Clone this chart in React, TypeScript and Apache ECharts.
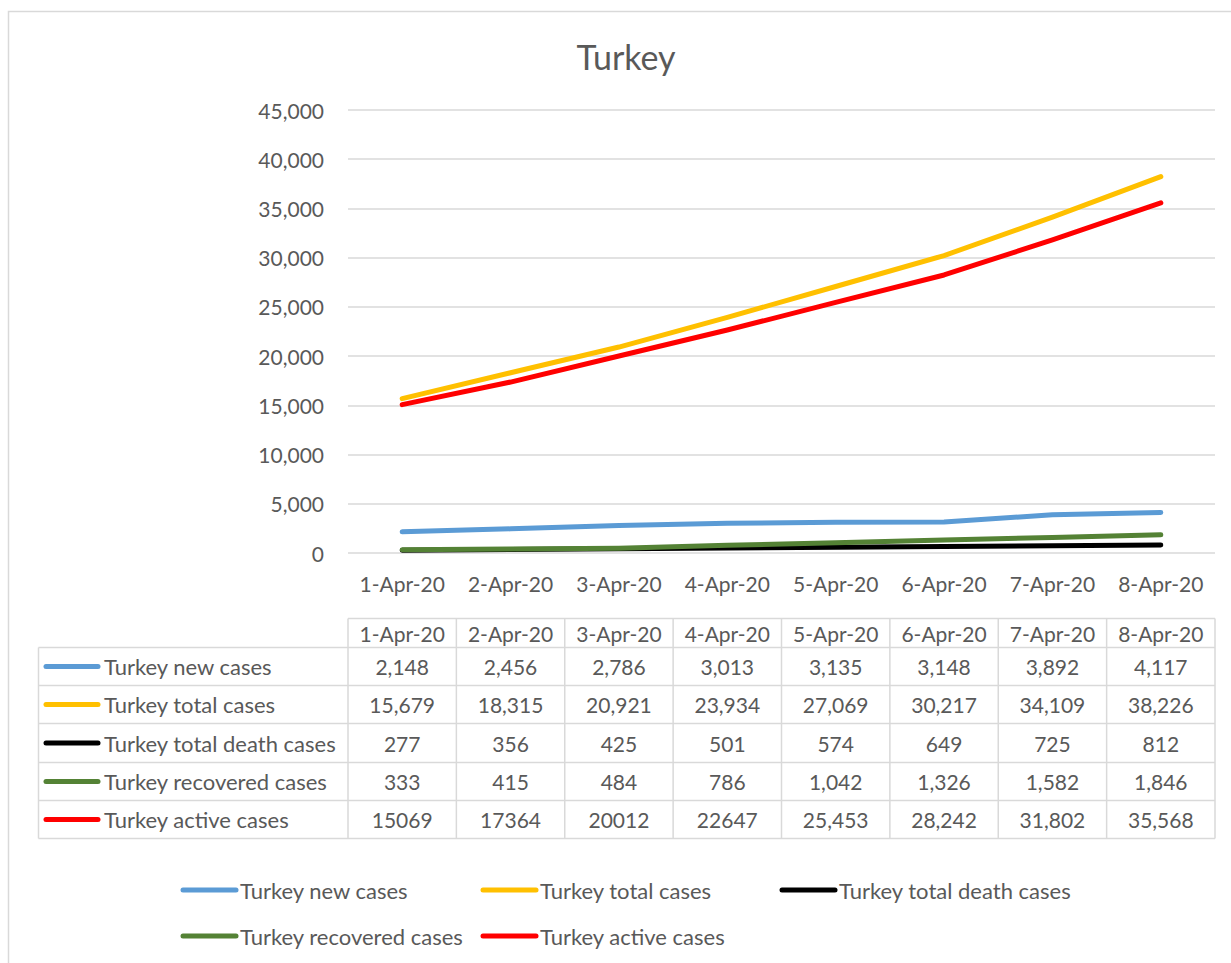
import React, { useEffect, useRef } from "react";
import * as echarts from "echarts";

const categories = ["1-Apr-20", "2-Apr-20", "3-Apr-20", "4-Apr-20", "5-Apr-20", "6-Apr-20", "7-Apr-20", "8-Apr-20"];
const newCases = [2148, 2456, 2786, 3013, 3135, 3148, 3892, 4117];
const totalCases = [15679, 18315, 20921, 23934, 27069, 30217, 34109, 38226];
const deathCases = [277, 356, 425, 501, 574, 649, 725, 812];
const recoveredCases = [333, 415, 484, 786, 1042, 1326, 1582, 1846];
const activeCases = [15069, 17364, 20012, 22647, 25453, 28242, 31802, 35568];
// the source table shows the first four active values without thousands separators
const activeGrouped = [false, false, false, false, true, true, true, true];

const seriesNames = [
  "Turkey new cases",
  "Turkey total cases",
  "Turkey total death cases",
  "Turkey recovered cases",
  "Turkey active cases",
];
const seriesData = [newCases, totalCases, deathCases, recoveredCases, activeCases];
const seriesColors = ["#5B9BD5", "#FFC000", "#000000", "#548235", "#FF0000"];

const yMin = 0;
const yMax = 45000;
const yInterval = 5000;

const FONT = "Lato";
const TEXT = "#595959";
const GRID = "#d9d9d9";

const fmt = (v: number) => v.toLocaleString("en-US");

export default function App() {
  const ref = useRef<HTMLDivElement>(null);
  useEffect(() => {
    if (!ref.current) return;
    const chart = echarts.init(ref.current, null, { renderer: "svg" });

    const gridL = 348;
    const gridR = 1215;
    const gridT = 110;
    const gridB = 553;
    const n = categories.length;
    const band = (gridR - gridL) / n;
    const colCenter = (i: number) => gridL + band * (i + 0.5);

    const headerTop = 618.5;
    const rowTops = [647.5, 685.5, 723.5, 762.5, 800.5, 838.5];
    const tableLeft = 38.5;
    const numFont = `21px ${FONT}`;
    const nameFont = `22px ${FONT}`;

    const g: any[] = [];
    // outer border
    g.push({
      type: "rect",
      shape: { x: 8.5, y: 11.5, width: 1300, height: 1100 },
      style: { fill: "none", stroke: GRID, lineWidth: 1.5 },
      silent: true,
    });
    // title
    g.push({
      type: "text",
      x: 626,
      y: 56,
      style: { text: "Turkey", font: `34px ${FONT}`, fill: TEXT, textAlign: "center", textVerticalAlign: "middle" },
    });

    // table horizontal lines
    g.push({ type: "line", shape: { x1: gridL, y1: headerTop, x2: gridR, y2: headerTop }, style: { stroke: GRID, lineWidth: 1.5 } });
    rowTops.forEach((y) => {
      g.push({ type: "line", shape: { x1: tableLeft, y1: y, x2: gridR, y2: y }, style: { stroke: GRID, lineWidth: 1.5 } });
    });
    // vertical lines
    g.push({ type: "line", shape: { x1: tableLeft, y1: rowTops[0], x2: tableLeft, y2: rowTops[rowTops.length - 1] }, style: { stroke: GRID, lineWidth: 1.5 } });
    for (let i = 0; i <= n; i++) {
      const x = gridL + band * i;
      g.push({ type: "line", shape: { x1: x, y1: headerTop, x2: x, y2: rowTops[rowTops.length - 1] }, style: { stroke: GRID, lineWidth: 1.5 } });
    }
    // header texts
    categories.forEach((c, i) => {
      g.push({
        type: "text",
        x: colCenter(i),
        y: (headerTop + rowTops[0]) / 2,
        style: { text: c, font: numFont, fill: TEXT, textAlign: "center", textVerticalAlign: "middle" },
      });
    });
    // rows
    seriesNames.forEach((name, r) => {
      const cy = (rowTops[r] + rowTops[r + 1]) / 2;
      g.push({
        type: "line",
        shape: { x1: 46, y1: cy, x2: 98, y2: cy },
        style: { stroke: seriesColors[r], lineWidth: 5, lineCap: "round" },
      });
      g.push({
        type: "text",
        x: 104,
        y: cy,
        style: { text: name, font: nameFont, fill: TEXT, textAlign: "left", textVerticalAlign: "middle" },
      });
      seriesData[r].forEach((v, i) => {
        const label = r === 4 && !activeGrouped[i] ? String(v) : fmt(v);
        g.push({
          type: "text",
          x: colCenter(i),
          y: cy,
          style: { text: label, font: numFont, fill: TEXT, textAlign: "center", textVerticalAlign: "middle" },
        });
      });
    });

    // legend
    const legendPos = [
      [181, 890],
      [481, 890],
      [780, 890],
      [181, 936],
      [481, 936],
    ];
    seriesNames.forEach((name, r) => {
      const [lx, ly] = legendPos[r];
      g.push({
        type: "line",
        shape: { x1: lx + 2, y1: ly, x2: lx + 55, y2: ly },
        style: { stroke: seriesColors[r], lineWidth: 5, lineCap: "round" },
      });
      g.push({
        type: "text",
        x: lx + 59,
        y: ly,
        style: { text: name, font: nameFont, fill: TEXT, textAlign: "left", textVerticalAlign: "middle" },
      });
    });

    chart.setOption({
      animation: false,
      backgroundColor: "#ffffff",
      grid: { left: gridL, right: 1231 - gridR, top: gridT, bottom: 963 - gridB, containLabel: false },
      xAxis: {
        type: "category",
        data: categories,
        boundaryGap: true,
        axisLine: { show: false },
        axisTick: { show: false },
        axisLabel: { color: TEXT, fontFamily: FONT, fontSize: 21, margin: 20, interval: 0, hideOverlap: false },
      },
      yAxis: {
        type: "value",
        min: yMin,
        max: yMax,
        interval: yInterval,
        axisLine: { show: false },
        axisTick: { show: false },
        axisLabel: { color: TEXT, fontFamily: FONT, fontSize: 21, margin: 24, formatter: (v: number) => fmt(v) },
        splitLine: { lineStyle: { color: GRID, width: 1.5 } },
      },
      series: seriesNames.map((name, r) => ({
        name,
        type: "line",
        data: seriesData[r],
        symbol: "none",
        smooth: false,
        lineStyle: { color: seriesColors[r], width: 5, cap: "round", join: "round" },
        itemStyle: { color: seriesColors[r] },
      })),
      graphic: g,
    });

    return () => chart.dispose();
  }, []);

  return <div ref={ref} style={{ width: 1231, height: 963, position: "absolute", left: 0, top: 0 }} />;
}
